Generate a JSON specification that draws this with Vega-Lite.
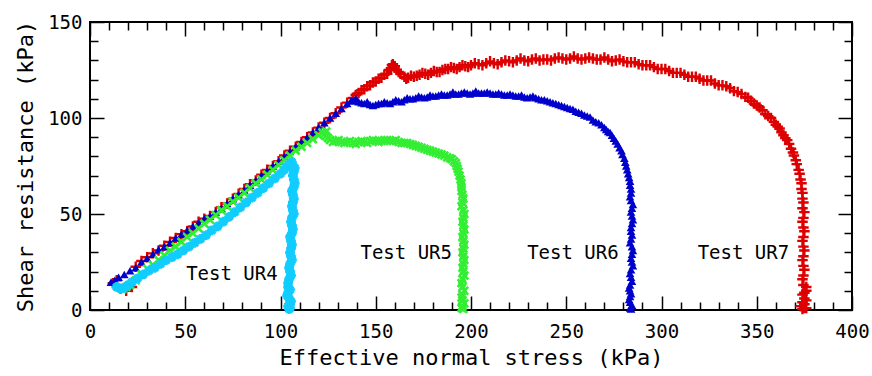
{
  "$schema": "https://vega.github.io/schema/vega-lite/v6.json",
  "autosize": "none",
  "width": 762,
  "height": 288,
  "padding": {"left": 90, "top": 22, "right": 20, "bottom": 66},
  "background": "white",
  "config": {
    "view": {"stroke": "black", "strokeWidth": 2},
    "axis": {"labelFont": "DejaVu Sans Mono", "titleFont": "DejaVu Sans Mono", "labelColor": "black", "titleColor": "black", "tickColor": "black", "tickWidth": 1.5, "domain": false, "grid": false, "titleFontWeight": "normal", "labelFlush": false, "labelOverlap": false}
  },
  "datasets": {
    "pts": [
      {"t":"UR7","x":12,"y":14},{"t":"UR7","x":14,"y":15.5},{"t":"UR7","x":16,"y":11},{"t":"UR7","x":19,"y":10},{"t":"UR7","x":22,"y":12},{"t":"UR7","x":24,"y":22.5},{"t":"UR7","x":27,"y":25.5},{"t":"UR7","x":30,"y":27.5},{"t":"UR7","x":33,"y":29.5},{"t":"UR7","x":36,"y":31},{"t":"UR7","x":39,"y":33.5},{"t":"UR7","x":42,"y":35.5},{"t":"UR7","x":45,"y":37.5},{"t":"UR7","x":48,"y":39.5},{"t":"UR7","x":51,"y":41},{"t":"UR7","x":54,"y":43.5},{"t":"UR7","x":57,"y":46},{"t":"UR7","x":60,"y":47.5},{"t":"UR7","x":63,"y":49},{"t":"UR7","x":66,"y":51},{"t":"UR7","x":69,"y":53.5},{"t":"UR7","x":72,"y":55.5},{"t":"UR7","x":75,"y":58},{"t":"UR7","x":78,"y":60.5},{"t":"UR7","x":81,"y":63},{"t":"UR7","x":84,"y":65.5},{"t":"UR7","x":87,"y":67.5},{"t":"UR7","x":90,"y":70.5},{"t":"UR7","x":93,"y":73},{"t":"UR7","x":96,"y":75},{"t":"UR7","x":99,"y":77.5},{"t":"UR7","x":102,"y":80.5},{"t":"UR7","x":105,"y":83},{"t":"UR7","x":108,"y":85},{"t":"UR7","x":111,"y":87.5},{"t":"UR7","x":114,"y":90},{"t":"UR7","x":117,"y":92.5},{"t":"UR7","x":120,"y":95},{"t":"UR7","x":123,"y":97.5},{"t":"UR7","x":126,"y":100},{"t":"UR7","x":129,"y":102.5},{"t":"UR7","x":132,"y":105.5},{"t":"UR7","x":135,"y":108},
      {"t":"UR7","x":138,"y":110.5},{"t":"UR7","x":141,"y":113},{"t":"UR7","x":144,"y":115},{"t":"UR7","x":147,"y":117},{"t":"UR7","x":150,"y":119},{"t":"UR7","x":153,"y":121},{"t":"UR7","x":156,"y":123},{"t":"UR7","x":158,"y":126},{"t":"UR7","x":159,"y":128},{"t":"UR7","x":160,"y":127},{"t":"UR7","x":161,"y":125},{"t":"UR7","x":163,"y":123},{"t":"UR7","x":165,"y":121.5},{"t":"UR7","x":167,"y":121},{"t":"UR7","x":170,"y":121.5},{"t":"UR7","x":173,"y":122.5},{"t":"UR7","x":176,"y":123},{"t":"UR7","x":179,"y":123.5},{"t":"UR7","x":182,"y":124},{"t":"UR7","x":185,"y":125},{"t":"UR7","x":188,"y":125.5},{"t":"UR7","x":191,"y":126},{"t":"UR7","x":194,"y":126.5},{"t":"UR7","x":197,"y":127},{"t":"UR7","x":200,"y":127.5},{"t":"UR7","x":204,"y":128},{"t":"UR7","x":208,"y":128.5},{"t":"UR7","x":212,"y":128.5},{"t":"UR7","x":216,"y":129},{"t":"UR7","x":220,"y":129.5},{"t":"UR7","x":224,"y":130},{"t":"UR7","x":228,"y":130},{"t":"UR7","x":232,"y":130.5},{"t":"UR7","x":236,"y":130},{"t":"UR7","x":240,"y":130.5},{"t":"UR7","x":244,"y":131},{"t":"UR7","x":248,"y":131},{"t":"UR7","x":252,"y":131},{"t":"UR7","x":256,"y":131},{"t":"UR7","x":260,"y":131},{"t":"UR7","x":264,"y":131},{"t":"UR7","x":268,"y":130.5},{"t":"UR7","x":272,"y":130.5},{"t":"UR7","x":276,"y":130},{"t":"UR7","x":280,"y":129.5},{"t":"UR7","x":284,"y":129},{"t":"UR7","x":288,"y":128},{"t":"UR7","x":292,"y":127.5},{"t":"UR7","x":296,"y":126.5},{"t":"UR7","x":300,"y":125.5},{"t":"UR7","x":304,"y":124.5},{"t":"UR7","x":308,"y":123.5},{"t":"UR7","x":312,"y":122.5},{"t":"UR7","x":316,"y":121.5},{"t":"UR7","x":320,"y":120.5},{"t":"UR7","x":324,"y":119.5},{"t":"UR7","x":328,"y":118},{"t":"UR7","x":332,"y":117},{"t":"UR7","x":336,"y":115.5},{"t":"UR7","x":340,"y":113.5},{"t":"UR7","x":344,"y":111},{"t":"UR7","x":347,"y":109},{"t":"UR7","x":350,"y":106.5},{"t":"UR7","x":353,"y":104},{"t":"UR7","x":356,"y":101},{"t":"UR7","x":359,"y":98},{"t":"UR7","x":361,"y":95.5},{"t":"UR7","x":363,"y":92.5},{"t":"UR7","x":365,"y":89.5},{"t":"UR7","x":367,"y":86.5},{"t":"UR7","x":369,"y":82},{"t":"UR7","x":370.5,"y":78},{"t":"UR7","x":372,"y":73},{"t":"UR7","x":373,"y":68},{"t":"UR7","x":373.5,"y":63},{"t":"UR7","x":374,"y":58},{"t":"UR7","x":374,"y":53},{"t":"UR7","x":374.5,"y":48},{"t":"UR7","x":374.5,"y":43},{"t":"UR7","x":374.5,"y":38},{"t":"UR7","x":374.5,"y":33},{"t":"UR7","x":374.5,"y":28},{"t":"UR7","x":374.5,"y":23},{"t":"UR7","x":374.5,"y":18},{"t":"UR7","x":374.5,"y":13},{"t":"UR7","x":375,"y":9},{"t":"UR7","x":375,"y":6},{"t":"UR7","x":375,"y":3},{"t":"UR7","x":375,"y":1},{"t":"UR7","x":376,"y":10},{"t":"UR7","x":373,"y":2},
      {"t":"UR7","x":139.5,"y":112},{"t":"UR7","x":142.5,"y":114.5},{"t":"UR7","x":145.5,"y":116.5},{"t":"UR7","x":148.5,"y":118.5},{"t":"UR7","x":151.5,"y":120.5},{"t":"UR7","x":154.5,"y":122.5},{"t":"UR7","x":157,"y":125},{"t":"UR7","x":158.5,"y":127.5},{"t":"UR7","x":162,"y":124},{"t":"UR7","x":166,"y":120.5},{"t":"UR7","x":168.5,"y":122},{"t":"UR7","x":171.5,"y":122},{"t":"UR7","x":174.5,"y":123.5},{"t":"UR7","x":177.5,"y":122.5},{"t":"UR7","x":180.5,"y":124.5},{"t":"UR7","x":183.5,"y":124},{"t":"UR7","x":186.5,"y":125.5},{"t":"UR7","x":189.5,"y":126.5},{"t":"UR7","x":192.5,"y":125.5},{"t":"UR7","x":195.5,"y":127.5},{"t":"UR7","x":198.5,"y":126.5},{"t":"UR7","x":202,"y":128.5},{"t":"UR7","x":206,"y":127.5},{"t":"UR7","x":210,"y":129.5},{"t":"UR7","x":214,"y":128},{"t":"UR7","x":218,"y":130},{"t":"UR7","x":222,"y":129},{"t":"UR7","x":226,"y":131},{"t":"UR7","x":230,"y":129.5},{"t":"UR7","x":234,"y":131},{"t":"UR7","x":238,"y":130.5},{"t":"UR7","x":242,"y":130},{"t":"UR7","x":246,"y":131.5},{"t":"UR7","x":250,"y":130.5},{"t":"UR7","x":254,"y":132},{"t":"UR7","x":258,"y":130.5},{"t":"UR7","x":262,"y":131.5},{"t":"UR7","x":266,"y":130.5},{"t":"UR7","x":270,"y":131.5},{"t":"UR7","x":274,"y":129.5},{"t":"UR7","x":278,"y":130.5},{"t":"UR7","x":282,"y":129},{"t":"UR7","x":286,"y":129},{"t":"UR7","x":290,"y":127.5},{"t":"UR7","x":294,"y":127.5},{"t":"UR7","x":298,"y":125.5},{"t":"UR7","x":302,"y":125.5},{"t":"UR7","x":306,"y":123.5},{"t":"UR7","x":310,"y":123.5},{"t":"UR7","x":314,"y":121.5},{"t":"UR7","x":318,"y":121.5},{"t":"UR7","x":322,"y":119.5},{"t":"UR7","x":326,"y":119.5},{"t":"UR7","x":330,"y":117},{"t":"UR7","x":334,"y":116.5},{"t":"UR7","x":338,"y":114},{"t":"UR7","x":342,"y":112.5},{"t":"UR7","x":345.5,"y":110.5},{"t":"UR7","x":348.5,"y":107.5},{"t":"UR7","x":351.5,"y":105.5},{"t":"UR7","x":354.5,"y":102},{"t":"UR7","x":357.5,"y":100},{"t":"UR7","x":360,"y":96.5},{"t":"UR7","x":362,"y":94.5},{"t":"UR7","x":364,"y":91},{"t":"UR7","x":366,"y":88.5},{"t":"UR7","x":368,"y":84},{"t":"UR7","x":369.5,"y":80.5},{"t":"UR7","x":371,"y":76},{"t":"UR7","x":372.5,"y":71},{"t":"UR7","x":373.5,"y":66},{"t":"UR7","x":374,"y":61},{"t":"UR7","x":374.5,"y":56},{"t":"UR7","x":375,"y":51},{"t":"UR7","x":374,"y":46},{"t":"UR7","x":375,"y":41},{"t":"UR7","x":374,"y":36},{"t":"UR7","x":375,"y":31},{"t":"UR7","x":374,"y":26},{"t":"UR7","x":375,"y":21},{"t":"UR7","x":374,"y":16},{"t":"UR7","x":376,"y":12},{"t":"UR7","x":374,"y":8},{"t":"UR7","x":376,"y":5},{"t":"UR7","x":374,"y":4},{"t":"UR7","x":376,"y":1},{"t":"UR7","x":374,"y":0.5},
      {"t":"UR6","x":11,"y":14.5},{"t":"UR6","x":13,"y":15.5},{"t":"UR6","x":15,"y":17},{"t":"UR6","x":18,"y":18.5},{"t":"UR6","x":21,"y":20.5},{"t":"UR6","x":24,"y":22},{"t":"UR6","x":27,"y":25},{"t":"UR6","x":30,"y":27},{"t":"UR6","x":33,"y":29},{"t":"UR6","x":36,"y":31.5},{"t":"UR6","x":39,"y":33},{"t":"UR6","x":42,"y":35},{"t":"UR6","x":45,"y":37.5},{"t":"UR6","x":48,"y":39.5},{"t":"UR6","x":51,"y":41.5},{"t":"UR6","x":54,"y":43.5},{"t":"UR6","x":57,"y":45.5},{"t":"UR6","x":60,"y":47.5},{"t":"UR6","x":63,"y":49},{"t":"UR6","x":66,"y":51},{"t":"UR6","x":69,"y":53},{"t":"UR6","x":72,"y":55.5},{"t":"UR6","x":75,"y":58},{"t":"UR6","x":78,"y":60},{"t":"UR6","x":81,"y":62.5},{"t":"UR6","x":84,"y":65},{"t":"UR6","x":87,"y":67.5},{"t":"UR6","x":90,"y":70},{"t":"UR6","x":93,"y":72.5},{"t":"UR6","x":96,"y":75},{"t":"UR6","x":99,"y":77.5},{"t":"UR6","x":102,"y":80},{"t":"UR6","x":105,"y":82.5},{"t":"UR6","x":108,"y":85},{"t":"UR6","x":111,"y":87.5},{"t":"UR6","x":114,"y":90},{"t":"UR6","x":117,"y":92.5},{"t":"UR6","x":120,"y":95},{"t":"UR6","x":123,"y":97.5},{"t":"UR6","x":126,"y":100},{"t":"UR6","x":129,"y":102.5},{"t":"UR6","x":132,"y":105},{"t":"UR6","x":135,"y":107.5},{"t":"UR6","x":137,"y":109},
      {"t":"UR6","x":138,"y":109},{"t":"UR6","x":141,"y":108.5},{"t":"UR6","x":144,"y":107.5},{"t":"UR6","x":147,"y":107},{"t":"UR6","x":150,"y":107},{"t":"UR6","x":153,"y":107.5},{"t":"UR6","x":156,"y":108},{"t":"UR6","x":159,"y":108.5},{"t":"UR6","x":162,"y":109},{"t":"UR6","x":165,"y":109.5},{"t":"UR6","x":168,"y":110},{"t":"UR6","x":171,"y":110.5},{"t":"UR6","x":174,"y":111},{"t":"UR6","x":177,"y":111},{"t":"UR6","x":180,"y":111.5},{"t":"UR6","x":183,"y":112},{"t":"UR6","x":186,"y":112},{"t":"UR6","x":189,"y":112.5},{"t":"UR6","x":192,"y":112.5},{"t":"UR6","x":195,"y":113},{"t":"UR6","x":198,"y":113},{"t":"UR6","x":201,"y":113},{"t":"UR6","x":204,"y":113},{"t":"UR6","x":207,"y":113},{"t":"UR6","x":210,"y":113},{"t":"UR6","x":213,"y":112.5},{"t":"UR6","x":216,"y":112.5},{"t":"UR6","x":219,"y":112},{"t":"UR6","x":222,"y":112},{"t":"UR6","x":225,"y":111.5},{"t":"UR6","x":228,"y":111},{"t":"UR6","x":231,"y":111},{"t":"UR6","x":234,"y":110.5},{"t":"UR6","x":237,"y":109.5},{"t":"UR6","x":240,"y":109},{"t":"UR6","x":243,"y":108},{"t":"UR6","x":246,"y":107},{"t":"UR6","x":249,"y":106},{"t":"UR6","x":252,"y":105},{"t":"UR6","x":255,"y":103.5},{"t":"UR6","x":258,"y":102.5},{"t":"UR6","x":261,"y":101},{"t":"UR6","x":264,"y":99},{"t":"UR6","x":267,"y":97.5},{"t":"UR6","x":270,"y":95},{"t":"UR6","x":272,"y":93},{"t":"UR6","x":274,"y":91},{"t":"UR6","x":276,"y":88},{"t":"UR6","x":278,"y":84.5},{"t":"UR6","x":279.5,"y":81},{"t":"UR6","x":281,"y":77},{"t":"UR6","x":282,"y":73},{"t":"UR6","x":283,"y":69},{"t":"UR6","x":283.5,"y":65},{"t":"UR6","x":284,"y":61},{"t":"UR6","x":284,"y":57},{"t":"UR6","x":284.5,"y":53},{"t":"UR6","x":284.5,"y":49},{"t":"UR6","x":284.5,"y":45},{"t":"UR6","x":284,"y":41},{"t":"UR6","x":284,"y":37},{"t":"UR6","x":284.5,"y":33},{"t":"UR6","x":284.5,"y":29},{"t":"UR6","x":284.5,"y":25},{"t":"UR6","x":284,"y":21},{"t":"UR6","x":284,"y":17},{"t":"UR6","x":283.5,"y":13},{"t":"UR6","x":283.5,"y":10},{"t":"UR6","x":283.5,"y":7},{"t":"UR6","x":283.5,"y":4},{"t":"UR6","x":283.5,"y":1},
      {"t":"UR6","x":139.5,"y":110},{"t":"UR6","x":142.5,"y":108},{"t":"UR6","x":145.5,"y":108.5},{"t":"UR6","x":148.5,"y":106.5},{"t":"UR6","x":151.5,"y":107.5},{"t":"UR6","x":154.5,"y":108.5},{"t":"UR6","x":157.5,"y":107.5},{"t":"UR6","x":160.5,"y":109.5},{"t":"UR6","x":163.5,"y":108.5},{"t":"UR6","x":166.5,"y":110.5},{"t":"UR6","x":169.5,"y":110},{"t":"UR6","x":172.5,"y":111.5},{"t":"UR6","x":175.5,"y":110.5},{"t":"UR6","x":178.5,"y":112},{"t":"UR6","x":181.5,"y":111.5},{"t":"UR6","x":184.5,"y":112.5},{"t":"UR6","x":187.5,"y":112},{"t":"UR6","x":190.5,"y":113.5},{"t":"UR6","x":193.5,"y":112.5},{"t":"UR6","x":196.5,"y":113.5},{"t":"UR6","x":199.5,"y":112.5},{"t":"UR6","x":202.5,"y":114},{"t":"UR6","x":205.5,"y":113},{"t":"UR6","x":208.5,"y":113.5},{"t":"UR6","x":211.5,"y":112.5},{"t":"UR6","x":214.5,"y":113},{"t":"UR6","x":217.5,"y":112},{"t":"UR6","x":220.5,"y":112.5},{"t":"UR6","x":223.5,"y":111.5},{"t":"UR6","x":226.5,"y":112},{"t":"UR6","x":229.5,"y":110.5},{"t":"UR6","x":232.5,"y":111.5},{"t":"UR6","x":235.5,"y":110},{"t":"UR6","x":238.5,"y":109.5},{"t":"UR6","x":241.5,"y":108.5},{"t":"UR6","x":244.5,"y":107.5},{"t":"UR6","x":247.5,"y":106.5},{"t":"UR6","x":250.5,"y":105.5},{"t":"UR6","x":253.5,"y":104.5},{"t":"UR6","x":256.5,"y":103},{"t":"UR6","x":259.5,"y":101.5},{"t":"UR6","x":262.5,"y":100.5},{"t":"UR6","x":265.5,"y":98},{"t":"UR6","x":268.5,"y":96.5},{"t":"UR6","x":271,"y":94},{"t":"UR6","x":273,"y":92.5},{"t":"UR6","x":275,"y":89.5},{"t":"UR6","x":277,"y":86.5},{"t":"UR6","x":279,"y":83},{"t":"UR6","x":280.5,"y":79},{"t":"UR6","x":281.5,"y":75},{"t":"UR6","x":282.5,"y":71},{"t":"UR6","x":283.5,"y":67},{"t":"UR6","x":284,"y":63},{"t":"UR6","x":283.5,"y":59},{"t":"UR6","x":285,"y":55},{"t":"UR6","x":284,"y":51},{"t":"UR6","x":285,"y":47},{"t":"UR6","x":284,"y":43},{"t":"UR6","x":284.5,"y":39},{"t":"UR6","x":283.5,"y":35},{"t":"UR6","x":285,"y":31},{"t":"UR6","x":284,"y":27},{"t":"UR6","x":285,"y":23},{"t":"UR6","x":283.5,"y":19},{"t":"UR6","x":284.5,"y":15},{"t":"UR6","x":283,"y":11.5},{"t":"UR6","x":284,"y":8.5},{"t":"UR6","x":283,"y":5.5},{"t":"UR6","x":284.5,"y":2.5},{"t":"UR6","x":284,"y":0.5},
      {"t":"UR5","x":17,"y":11},{"t":"UR5","x":19,"y":12},{"t":"UR5","x":21,"y":13},{"t":"UR5","x":24,"y":15.5},{"t":"UR5","x":27,"y":18.5},{"t":"UR5","x":30,"y":21.5},{"t":"UR5","x":33,"y":23.5},{"t":"UR5","x":36,"y":26},{"t":"UR5","x":39,"y":28.5},{"t":"UR5","x":42,"y":31},{"t":"UR5","x":45,"y":33},{"t":"UR5","x":48,"y":35.5},{"t":"UR5","x":51,"y":38},{"t":"UR5","x":54,"y":40},{"t":"UR5","x":57,"y":42.5},{"t":"UR5","x":60,"y":45},{"t":"UR5","x":63,"y":47},{"t":"UR5","x":66,"y":49.5},{"t":"UR5","x":69,"y":52},{"t":"UR5","x":72,"y":54},{"t":"UR5","x":75,"y":56.5},{"t":"UR5","x":78,"y":58.5},{"t":"UR5","x":81,"y":61},{"t":"UR5","x":84,"y":63.5},{"t":"UR5","x":87,"y":66},{"t":"UR5","x":90,"y":68},{"t":"UR5","x":93,"y":70.5},{"t":"UR5","x":96,"y":73},{"t":"UR5","x":99,"y":75.5},{"t":"UR5","x":102,"y":78},{"t":"UR5","x":105,"y":80.5},{"t":"UR5","x":108,"y":83},{"t":"UR5","x":111,"y":85},{"t":"UR5","x":114,"y":87},{"t":"UR5","x":117,"y":89},{"t":"UR5","x":120,"y":91},{"t":"UR5","x":122,"y":92.5},{"t":"UR5","x":124,"y":93},{"t":"UR5","x":124,"y":90.5},{"t":"UR5","x":126,"y":88.5},{"t":"UR5","x":129,"y":88},{"t":"UR5","x":132,"y":87.5},{"t":"UR5","x":135,"y":87.5},{"t":"UR5","x":138,"y":87},{"t":"UR5","x":141,"y":87.5},{"t":"UR5","x":144,"y":87.5},{"t":"UR5","x":147,"y":88},{"t":"UR5","x":150,"y":88},{"t":"UR5","x":153,"y":88},{"t":"UR5","x":156,"y":88.5},{"t":"UR5","x":159,"y":88},{"t":"UR5","x":162,"y":87.5},{"t":"UR5","x":165,"y":87},{"t":"UR5","x":168,"y":86.5},{"t":"UR5","x":171,"y":85.5},{"t":"UR5","x":174,"y":84.5},{"t":"UR5","x":177,"y":83.5},{"t":"UR5","x":180,"y":82.5},{"t":"UR5","x":183,"y":81.5},{"t":"UR5","x":186,"y":80.5},{"t":"UR5","x":189,"y":79},{"t":"UR5","x":191,"y":77.5},{"t":"UR5","x":192.5,"y":75},{"t":"UR5","x":193.5,"y":72},{"t":"UR5","x":194.5,"y":68},{"t":"UR5","x":195,"y":64},{"t":"UR5","x":195.5,"y":60},{"t":"UR5","x":195.5,"y":56},{"t":"UR5","x":196,"y":52},{"t":"UR5","x":196,"y":48},{"t":"UR5","x":196,"y":44},{"t":"UR5","x":196,"y":40},{"t":"UR5","x":196,"y":36},{"t":"UR5","x":196,"y":32},{"t":"UR5","x":196,"y":28},{"t":"UR5","x":196,"y":24},{"t":"UR5","x":196,"y":20},{"t":"UR5","x":195.5,"y":16},{"t":"UR5","x":195.5,"y":12},{"t":"UR5","x":195.5,"y":8},{"t":"UR5","x":195.5,"y":5},{"t":"UR5","x":195.5,"y":2},{"t":"UR5","x":196,"y":0.5},
      {"t":"UR5","x":123,"y":91.5},{"t":"UR5","x":125,"y":89.5},{"t":"UR5","x":127.5,"y":87.5},{"t":"UR5","x":130.5,"y":88.5},{"t":"UR5","x":133.5,"y":87},{"t":"UR5","x":136.5,"y":88},{"t":"UR5","x":139.5,"y":86.5},{"t":"UR5","x":142.5,"y":88},{"t":"UR5","x":145.5,"y":87},{"t":"UR5","x":148.5,"y":88.5},{"t":"UR5","x":151.5,"y":87.5},{"t":"UR5","x":154.5,"y":88.5},{"t":"UR5","x":157.5,"y":88},{"t":"UR5","x":160.5,"y":88.5},{"t":"UR5","x":163.5,"y":87},{"t":"UR5","x":166.5,"y":87},{"t":"UR5","x":169.5,"y":86},{"t":"UR5","x":172.5,"y":85},{"t":"UR5","x":175.5,"y":84},{"t":"UR5","x":178.5,"y":83},{"t":"UR5","x":181.5,"y":82},{"t":"UR5","x":184.5,"y":81},{"t":"UR5","x":187.5,"y":79.5},{"t":"UR5","x":190,"y":78.5},{"t":"UR5","x":192,"y":76.5},{"t":"UR5","x":193,"y":73.5},{"t":"UR5","x":194,"y":70},{"t":"UR5","x":195,"y":66},{"t":"UR5","x":195,"y":62},{"t":"UR5","x":196,"y":58},{"t":"UR5","x":195,"y":54},{"t":"UR5","x":196.5,"y":50},{"t":"UR5","x":195.5,"y":46},{"t":"UR5","x":196.5,"y":42},{"t":"UR5","x":195.5,"y":38},{"t":"UR5","x":196.5,"y":34},{"t":"UR5","x":195.5,"y":30},{"t":"UR5","x":196.5,"y":26},{"t":"UR5","x":195.5,"y":22},{"t":"UR5","x":196.5,"y":18},{"t":"UR5","x":195,"y":14},{"t":"UR5","x":196.5,"y":10},{"t":"UR5","x":195,"y":6.5},{"t":"UR5","x":196.5,"y":3.5},{"t":"UR5","x":195,"y":1},
      {"t":"UR4","x":14,"y":12},{"t":"UR4","x":16,"y":11},{"t":"UR4","x":18,"y":11.5},{"t":"UR4","x":20,"y":13},{"t":"UR4","x":22,"y":14.5},{"t":"UR4","x":25,"y":16.5},{"t":"UR4","x":28,"y":18.5},{"t":"UR4","x":31,"y":20.5},{"t":"UR4","x":34,"y":22},{"t":"UR4","x":37,"y":24},{"t":"UR4","x":40,"y":26},{"t":"UR4","x":43,"y":27.5},{"t":"UR4","x":46,"y":29},{"t":"UR4","x":49,"y":31},{"t":"UR4","x":52,"y":33},{"t":"UR4","x":55,"y":35},{"t":"UR4","x":58,"y":37},{"t":"UR4","x":61,"y":39},{"t":"UR4","x":64,"y":41.5},{"t":"UR4","x":67,"y":43.5},{"t":"UR4","x":70,"y":46},{"t":"UR4","x":73,"y":48.5},{"t":"UR4","x":76,"y":51},{"t":"UR4","x":79,"y":53.5},{"t":"UR4","x":82,"y":56},{"t":"UR4","x":85,"y":58.5},{"t":"UR4","x":88,"y":61},{"t":"UR4","x":91,"y":63.5},{"t":"UR4","x":94,"y":66},{"t":"UR4","x":97,"y":68.5},{"t":"UR4","x":100,"y":71},{"t":"UR4","x":102,"y":73},{"t":"UR4","x":104,"y":75},{"t":"UR4","x":105.5,"y":76.5},{"t":"UR4","x":106.5,"y":75},{"t":"UR4","x":107,"y":72},{"t":"UR4","x":107,"y":68},{"t":"UR4","x":107,"y":64},{"t":"UR4","x":106.5,"y":60},{"t":"UR4","x":106.5,"y":56},{"t":"UR4","x":106.5,"y":52},{"t":"UR4","x":106,"y":48},{"t":"UR4","x":106,"y":44},{"t":"UR4","x":106,"y":40},{"t":"UR4","x":105.5,"y":36},{"t":"UR4","x":105.5,"y":32},{"t":"UR4","x":105.5,"y":28},{"t":"UR4","x":105,"y":24},{"t":"UR4","x":105,"y":20},{"t":"UR4","x":104.5,"y":16},{"t":"UR4","x":104,"y":12},{"t":"UR4","x":104,"y":9},{"t":"UR4","x":104.5,"y":6},{"t":"UR4","x":105,"y":3},{"t":"UR4","x":105,"y":1},
      {"t":"UR4","x":103,"y":74.5},{"t":"UR4","x":105,"y":76},{"t":"UR4","x":106,"y":77},{"t":"UR4","x":107.5,"y":74},{"t":"UR4","x":106.5,"y":70},{"t":"UR4","x":107.5,"y":66},{"t":"UR4","x":106,"y":62},{"t":"UR4","x":107,"y":58},{"t":"UR4","x":106,"y":54},{"t":"UR4","x":107,"y":50},{"t":"UR4","x":105.5,"y":46},{"t":"UR4","x":106.5,"y":42},{"t":"UR4","x":105,"y":38},{"t":"UR4","x":106,"y":34},{"t":"UR4","x":105,"y":30},{"t":"UR4","x":106,"y":26},{"t":"UR4","x":104.5,"y":22},{"t":"UR4","x":105.5,"y":18},{"t":"UR4","x":104,"y":14},{"t":"UR4","x":105,"y":10.5},{"t":"UR4","x":103.5,"y":7.5},{"t":"UR4","x":105.5,"y":4.5},{"t":"UR4","x":104,"y":2},{"t":"UR4","x":104.5,"y":0.5}
    ],
    "labels": [
      {"label":"Test UR4","x":74.5,"y":18.5},
      {"label":"Test UR5","x":166,"y":29.5},
      {"label":"Test UR6","x":253.5,"y":29.5},
      {"label":"Test UR7","x":343,"y":29.5}
    ]
  },
  "resolve": {"axis": {"x": "independent", "y": "independent"}},
  "layer": [
    {
      "data": {"name": "pts"},
      "transform": [{"filter": "datum.t === 'UR7'"}],
      "mark": {"type": "point", "shape": "M-1,0L1,0M0,-1L0,1", "filled": false, "stroke": "#dd0000", "strokeWidth": 2.4, "size": 110, "opacity": 1},
      "encoding": {
        "x": {"field": "x", "type": "quantitative", "scale": {"domain": [0, 400], "nice": false},
          "axis": {"orient": "bottom", "values": [0,50,100,150,200,250,300,350,400], "tickSize": -14, "labelPadding": 26, "labelFontSize": 19, "title": "Effective normal stress (kPa)", "titleFontSize": 22, "titlePadding": 6}},
        "y": {"field": "y", "type": "quantitative", "scale": {"domain": [0, 150], "nice": false},
          "axis": {"orient": "left", "values": [0,50,100,150], "tickSize": -14, "labelPadding": 22, "labelFontSize": 19, "title": "Shear resistance (kPa)", "titleFontSize": 22, "titlePadding": 10}}
      }
    },
    {
      "data": {"name": "pts"},
      "transform": [{"filter": "datum.t === 'UR6'"}],
      "mark": {"type": "point", "shape": "triangle-up", "filled": true, "fill": "#0000cc", "size": 75, "opacity": 1},
      "encoding": {
        "x": {"field": "x", "type": "quantitative", "scale": {"domain": [0, 400], "nice": false},
          "axis": {"orient": "bottom", "values": [10,20,30,40,60,70,80,90,110,120,130,140,160,170,180,190,210,220,230,240,260,270,280,290,310,320,330,340,360,370,380,390], "tickSize": -8, "labels": false, "title": null}},
        "y": {"field": "y", "type": "quantitative", "scale": {"domain": [0, 150], "nice": false},
          "axis": {"orient": "left", "values": [10,20,30,40,60,70,80,90,110,120,130,140], "tickSize": -8, "labels": false, "title": null}}
      }
    },
    {
      "data": {"name": "pts"},
      "transform": [{"filter": "datum.t === 'UR5'"}],
      "mark": {"type": "point", "shape": "M-1,-1L1,1M1,-1L-1,1", "filled": false, "stroke": "#33ee33", "strokeWidth": 2.6, "size": 60, "opacity": 1},
      "encoding": {
        "x": {"field": "x", "type": "quantitative", "scale": {"domain": [0, 400], "nice": false},
          "axis": {"orient": "top", "values": [0,50,100,150,200,250,300,350,400], "tickSize": -14, "labels": false, "title": null}},
        "y": {"field": "y", "type": "quantitative", "scale": {"domain": [0, 150], "nice": false},
          "axis": {"orient": "right", "values": [0,50,100,150], "tickSize": -14, "labels": false, "title": null}}
      }
    },
    {
      "data": {"name": "pts"},
      "transform": [{"filter": "datum.t === 'UR4'"}],
      "mark": {"type": "point", "shape": "M-1,0L1,0M0,-1L0,1M-0.7,-0.7L0.7,0.7M0.7,-0.7L-0.7,0.7", "filled": false, "stroke": "#11ccff", "strokeWidth": 3, "size": 95, "opacity": 1},
      "encoding": {
        "x": {"field": "x", "type": "quantitative", "scale": {"domain": [0, 400], "nice": false},
          "axis": {"orient": "top", "values": [10,20,30,40,60,70,80,90,110,120,130,140,160,170,180,190,210,220,230,240,260,270,280,290,310,320,330,340,360,370,380,390], "tickSize": -8, "labels": false, "title": null}},
        "y": {"field": "y", "type": "quantitative", "scale": {"domain": [0, 150], "nice": false},
          "axis": {"orient": "right", "values": [10,20,30,40,60,70,80,90,110,120,130,140], "tickSize": -8, "labels": false, "title": null}}
      }
    },
    {
      "data": {"name": "labels"},
      "mark": {"type": "text", "font": "DejaVu Sans Mono", "fontSize": 19, "color": "black", "align": "center", "baseline": "middle"},
      "encoding": {
        "x": {"field": "x", "type": "quantitative", "scale": {"domain": [0, 400], "nice": false}, "axis": null},
        "y": {"field": "y", "type": "quantitative", "scale": {"domain": [0, 150], "nice": false}, "axis": null},
        "text": {"field": "label"}
      }
    }
  ]
}
